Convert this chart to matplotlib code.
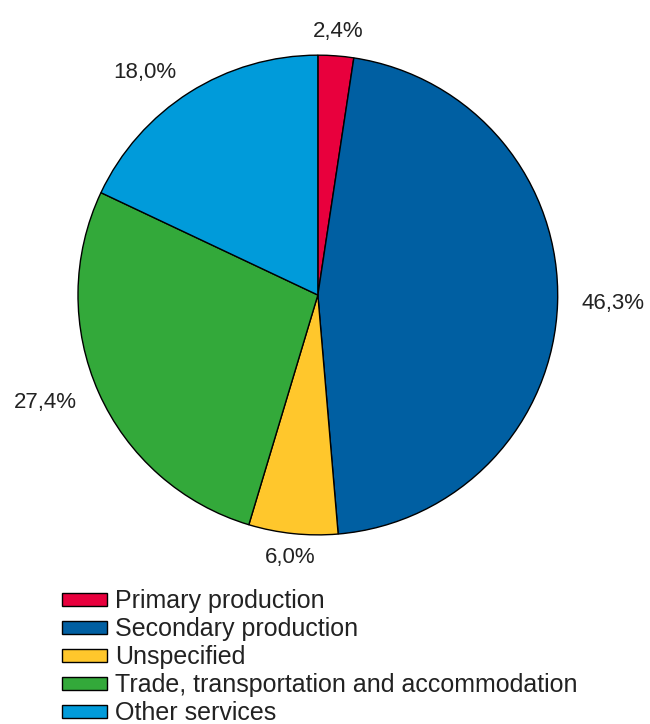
import numpy as np
import matplotlib
matplotlib.use('Agg')
import matplotlib.pyplot as plt

plt.rcParams['font.family'] = ['Liberation Sans', 'DejaVu Sans']

# Sector shares, clockwise from the top
sectors = ['Primary production', 'Secondary production', 'Unspecified',
           'Trade, transportation and accommodation', 'Other services']
shares = [2.4, 46.3, 6.0, 27.4, 18.0]
colors = ['#E8003D', '#005FA2', '#FFC72C', '#33A93A', '#009BDA']

fig = plt.figure(figsize=(6.5, 7.24), dpi=100)
ax = fig.add_axes([0.12, 0.261, 0.738, 0.663])

wedges, _ = ax.pie(shares, colors=colors, startangle=90, counterclock=False,
                   wedgeprops=dict(edgecolor='black', linewidth=1.0))
ax.set_xlim(-1, 1)
ax.set_ylim(-1, 1)
ax.set_aspect('equal')
for w in wedges:
    w.set_clip_on(False)

# percentage labels just outside each wedge
for w, v in zip(wedges, shares):
    ang = np.deg2rad((w.theta1 + w.theta2) / 2)
    x, y = np.cos(ang), np.sin(ang)
    if abs(x) < 0.25:
        ha = 'center'
    elif x > 0:
        ha = 'left'
    else:
        ha = 'right'
    ax.text(1.1 * x, 1.1 * y, f"{v:.1f}%".replace('.', ','), ha=ha,
            va='center', fontsize=16, color='#222222', clip_on=False)

leg = fig.legend(wedges, sectors, loc='upper left',
                 bbox_to_anchor=(0.095, 0.186), frameon=False,
                 fontsize=18, handlelength=1.8, handleheight=0.44,
                 handletextpad=0.32, labelspacing=0.16, borderpad=0,
                 borderaxespad=0)
for t in leg.get_texts():
    t.set_color('#222222')

fig.savefig('out.png', dpi=100, facecolor='white')
